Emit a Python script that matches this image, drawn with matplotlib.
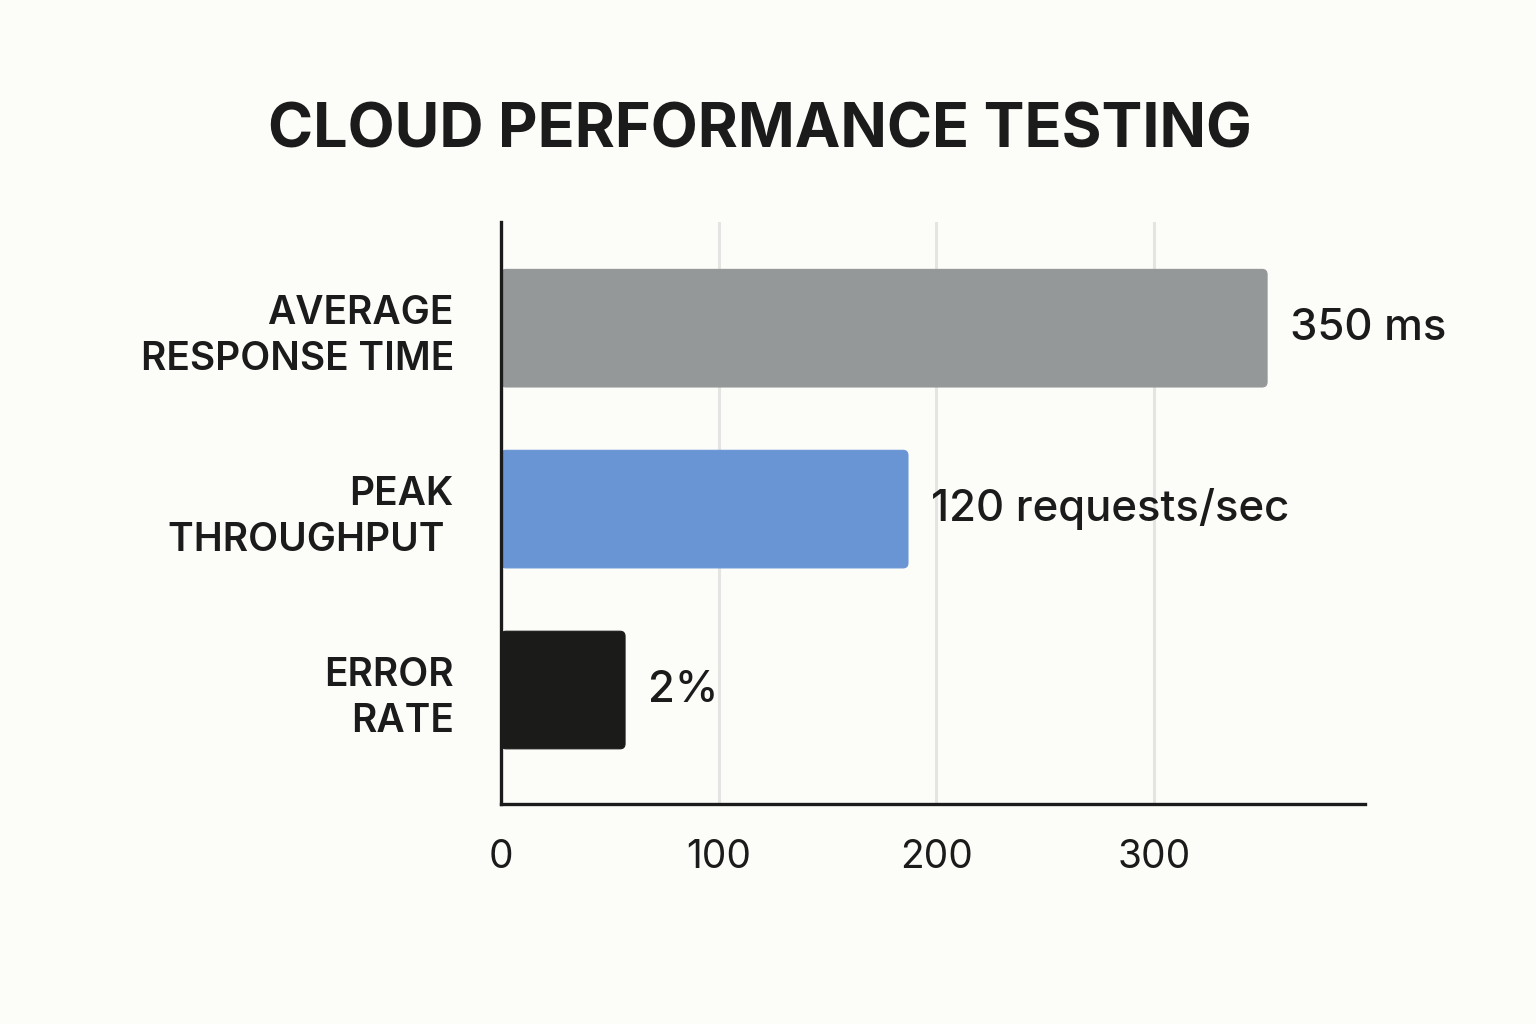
import matplotlib.pyplot as plt
from matplotlib.patches import FancyBboxPatch

categorias = ["ERROR\nRATE", "PEAK\nTHROUGHPUT ", "AVERAGE\nRESPONSE TIME"]
valores = [57, 187, 352]
etiquetas = ["2%", "120 requests/sec", "350 ms"]
colores = ["#1b1c1a", "#6a95d4", "#959899"]
ticks_x = [0, 100, 200, 300]

plt.rcParams["font.family"] = ["Inter", "DejaVu Sans"]
fondo = "#fcfcf9"

fig = plt.figure(figsize=(15.36, 10.24), dpi=100, facecolor=fondo)
ax = fig.add_axes([501 / 1536, 1 - 804 / 1024, (1365 - 501) / 1536, (804 - 222) / 1024])
ax.set_facecolor(fondo)

ax.set_xlim(0, 397)
ax.set_ylim(-0.63, 2.587)

# grid detras de las barras
for t in ticks_x[1:]:
    ax.axvline(t, color="#e4e4e2", lw=2.2, zorder=0)

barras = ax.barh(range(len(valores)), valores, height=0.65, color=colores)

# barras con esquinas redondeadas
aspecto = (397 / 864) / (3.217 / 582)
for b, c in zip(barras, colores):
    b.set_visible(False)
    x0, y0 = b.get_x(), b.get_y()
    w, h = b.get_width(), b.get_height()
    p = FancyBboxPatch((x0, y0), w, h,
                       boxstyle="round,pad=0,rounding_size=2.3",
                       mutation_aspect=1 / aspecto,
                       facecolor=c, edgecolor=c, lw=0.8, zorder=2)
    ax.add_patch(p)

for i, (v, txt) in enumerate(zip(valores, etiquetas)):
    ax.text(v + 10.5, i, txt, va="center", ha="left", fontsize=31.5,
            fontweight="medium", color="#1b1b1b")

ax.set_yticks(range(len(categorias)))
ax.set_yticklabels(categorias, fontsize=28, fontweight="semibold",
                   color="#1b1b1b", linespacing=1.32, ha="right")
ax.set_xticks(ticks_x)
ax.set_xticklabels([str(t) for t in ticks_x], fontsize=28, color="#1b1b1b")
ax.tick_params(axis="y", length=0, pad=34)
ax.tick_params(axis="x", length=0, pad=25)

for s in ["top", "right"]:
    ax.spines[s].set_visible(False)
for s in ["left", "bottom"]:
    ax.spines[s].set_linewidth(2.4)
    ax.spines[s].set_color("#1b1b1b")

fig.text(0.495, 1 - 131 / 1024, "CLOUD PERFORMANCE TESTING", ha="center",
         va="center", fontsize=44, fontweight="bold", color="#1b1b1b")

fig.savefig("out.png", dpi=100, facecolor=fondo)
